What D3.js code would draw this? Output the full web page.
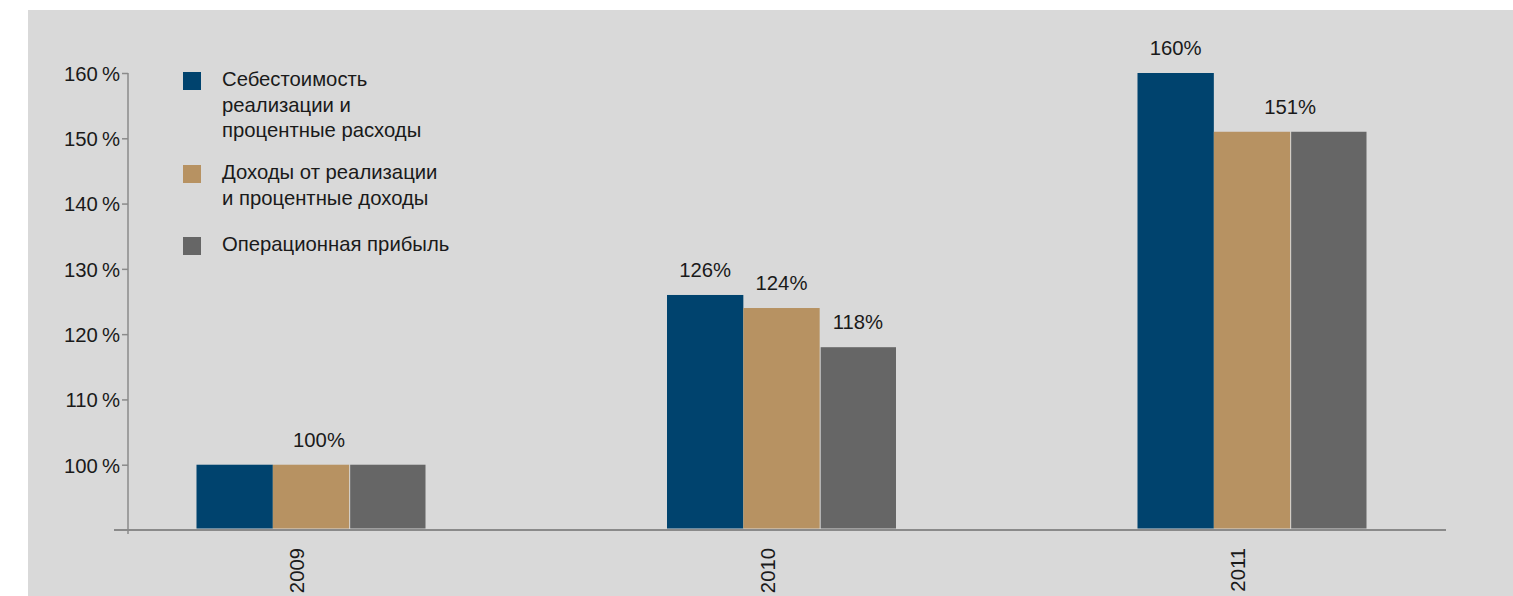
<!DOCTYPE html>
<html>
<head>
<meta charset="utf-8">
<script src="https://cdn.jsdelivr.net/npm/d3@7"></script>
<style>
  html, body { margin: 0; padding: 0; background: #ffffff; }
  svg { display: block; }
  text { font-family: "Liberation Sans", Arial, sans-serif; fill: #1a1a1a; }
</style>
</head>
<body>
<svg id="chart" width="1513" height="596"></svg>
<script>
// Index of costs, revenues and operating profit, 2009 = 100 %
const years = ["2009", "2010", "2011"];
const seriesNames = [
  "Себестоимость реализации и процентные расходы",
  "Доходы от реализации и процентные доходы",
  "Операционная прибыль"
];
const legendLines = [
  ["Себестоимость", "реализации и", "процентные расходы"],
  ["Доходы от реализации", "и процентные доходы"],
  ["Операционная прибыль"]
];
const costs    = [100, 126, 160];
const revenues = [100, 124, 151];
const profit   = [100, 118, 151];
const yTicks = [100, 110, 120, 130, 140, 150, 160];
const colors = ["#00436e", "#b79262", "#666666"];

// Value labels: which bars of a year each label sits over
const valueLabels = [
  { year: "2009", from: 0, to: 2, value: 100 },
  { year: "2010", from: 0, to: 0, value: 126 },
  { year: "2010", from: 1, to: 1, value: 124 },
  { year: "2010", from: 2, to: 2, value: 118 },
  { year: "2011", from: 0, to: 0, value: 160 },
  { year: "2011", from: 1, to: 2, value: 151 }
];

const values = [costs, revenues, profit];
const svg = d3.select("#chart");
const fontSize = 20.3;

// panel background
svg.append("rect")
  .attr("x", 28).attr("y", 10)
  .attr("width", 1485).attr("height", 586)
  .attr("fill", "#d9d9d9");

const y = d3.scaleLinear().domain([90, 160]).range([530, 73]);
const x = d3.scalePoint().domain(years).range([311, 1252]);
const inner = d3.scaleBand().domain(d3.range(3)).range([-114.5, 114.5]);

const axisX = 128;

// bars
const groups = svg.append("g").selectAll("g")
  .data(years)
  .join("g")
  .attr("transform", d => `translate(${x(d)},0)`);

groups.selectAll("rect")
  .data((d, i) => values.map((s, k) => ({ k, v: s[i] })))
  .join("rect")
  .attr("x", d => inner(d.k) + (d.k === 2 ? 1 : 0))
  .attr("width", d => inner.bandwidth() - (d.k === 2 ? 1 : 0))
  .attr("y", d => y(d.v))
  .attr("height", d => y(90) - y(d.v) - 1.5)
  .attr("fill", d => colors[d.k]);

// value labels
svg.append("g").selectAll("text")
  .data(valueLabels)
  .join("text")
  .attr("x", d => x(d.year) + (inner(d.from) + inner(d.to) + inner.bandwidth()) / 2 + (d.to - d.from === 2 ? 8 : 0))
  .attr("y", d => y(d.value) - 18)
  .attr("text-anchor", "middle")
  .attr("font-size", fontSize)
  .text(d => d.value + "%");

// y axis
const yAxis = d3.axisLeft(y)
  .tickValues(yTicks)
  .tickSize(6)
  .tickPadding(2)
  .tickFormat(d => d + "\u2009%");

const gy = svg.append("g")
  .attr("transform", `translate(${axisX},0)`)
  .call(yAxis);
gy.select(".domain").remove();
gy.selectAll(".tick line").attr("stroke", "#8a8a8a").attr("stroke-width", 1.5);
gy.selectAll(".tick text")
  .attr("font-size", fontSize)
  .attr("fill", "#1a1a1a")
  .attr("dy", "0.36em")
  .style("font-family", "'Liberation Sans', Arial, sans-serif");

svg.append("line")
  .attr("x1", axisX).attr("x2", axisX)
  .attr("y1", y(160)).attr("y2", y(90) + 4)
  .attr("stroke", "#8a8a8a").attr("stroke-width", 1.5);

// x axis
svg.append("line")
  .attr("x1", 114).attr("x2", 1446)
  .attr("y1", y(90)).attr("y2", y(90))
  .attr("stroke", "#8a8a8a").attr("stroke-width", 2);

svg.append("g").selectAll("text")
  .data(years)
  .join("text")
  .attr("transform", d => `translate(${x(d) - 14},548) rotate(-90)`)
  .attr("text-anchor", "end")
  .attr("dy", "0.36em")
  .attr("font-size", fontSize)
  .text(d => d);

// legend
const legendTop = [72, 165, 237];
const legend = svg.append("g").selectAll("g")
  .data(seriesNames)
  .join("g")
  .attr("transform", (d, i) => `translate(183,${legendTop[i]})`);

legend.append("rect")
  .attr("width", 18).attr("height", 18)
  .attr("fill", (d, i) => colors[i]);

legend.append("text")
  .attr("x", 39)
  .attr("y", 14)
  .attr("font-size", fontSize)
  .selectAll("tspan")
  .data((d, i) => legendLines[i])
  .join("tspan")
  .attr("x", 39)
  .attr("dy", (d, j) => j === 0 ? 0 : 25.5)
  .text(d => d);
</script>
</body>
</html>
